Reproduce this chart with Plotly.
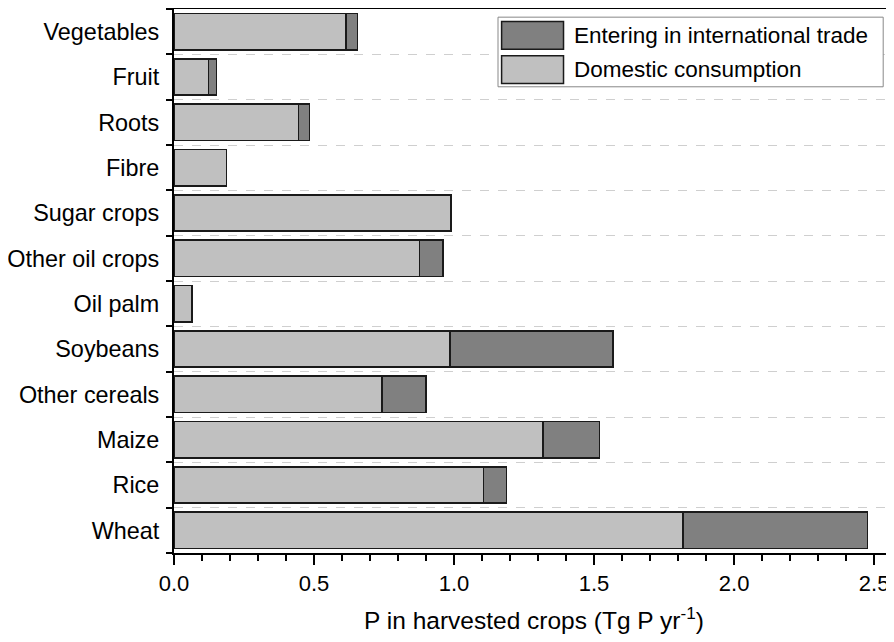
import plotly.graph_objects as go

crops = ["Wheat", "Rice", "Maize", "Other cereals", "Soybeans", "Oil palm",
         "Other oil crops", "Sugar crops", "Fibre", "Roots", "Fruit", "Vegetables"]
domestic = [1.817, 1.105, 1.317, 0.743, 0.986, 0.065, 0.876, 0.989, 0.188, 0.444, 0.123, 0.614]
trade = [0.660, 0.083, 0.202, 0.156, 0.582, 0.0, 0.084, 0.0, 0.0, 0.039, 0.029, 0.042]

x_ticks = [0.0, 0.5, 1.0, 1.5, 2.0, 2.5]
x_tick_labels = ["0.0", "0.5", "1.0", "1.5", "2.0", "2.5"]

name_trade = "Entering in international trade"
name_dom = "Domestic consumption"
col_trade = "#808080"
col_dom = "#c0c0c0"

FONT = "Liberation Sans, Arial, sans-serif"

fig = go.Figure()
fig.add_trace(go.Bar(
    y=crops, x=domestic, orientation="h", name=name_dom,
    marker=dict(color=col_dom, line=dict(color="#1a1a1a", width=1.5)),
    width=0.8, showlegend=False,
))
fig.add_trace(go.Bar(
    y=crops, x=[t if t > 0 else None for t in trade], orientation="h", name=name_trade,
    marker=dict(color=col_trade, line=dict(color="#1a1a1a", width=1.5)),
    width=0.8, showlegend=False,
))

# Custom legend (box, swatches, labels) in paper coordinates
fig.add_shape(type="rect", xref="paper", yref="paper",
              x0=0.45, x1=0.985, y0=0.857, y1=0.985,
              line=dict(color="#888888", width=1), fillcolor="white", layer="above")
legend_items = [(name_trade, col_trade, 0.977, 0.920), (name_dom, col_dom, 0.914, 0.857)]
for label, col, ytop, ybot in legend_items:
    fig.add_shape(type="rect", xref="paper", yref="paper",
                  x0=0.455, x1=0.541, y0=ybot + 0.006, y1=ytop,
                  line=dict(color="#1a1a1a", width=1.5), fillcolor=col, layer="above")
    fig.add_annotation(xref="paper", yref="paper", x=0.553, y=(ytop + ybot + 0.006) / 2,
                       text=label, showarrow=False, xanchor="left", yanchor="middle",
                       font=dict(family=FONT, size=22.5, color="black"))

fig.update_layout(
    barmode="stack",
    width=886, height=626,
    margin=dict(l=166, r=0, t=1, b=81),
    plot_bgcolor="white", paper_bgcolor="white",
    font=dict(family=FONT, size=22, color="black"),
    bargap=0.2,
)
fig.update_xaxes(
    range=[0, 2.571], automargin=False,
    tickvals=x_ticks, ticktext=x_tick_labels,
    ticks="outside", ticklen=10, tickwidth=2, tickcolor="black",
    minor=dict(dtick=0.1, ticks="outside", ticklen=6, tickwidth=1.5, tickcolor="black", showgrid=False),
    showline=True, linecolor="black", linewidth=2, mirror=True,
    showgrid=False, zeroline=False,
    title=dict(text="P in harvested crops (Tg P yr<sup>-1</sup>)", standoff=17,
               font=dict(family=FONT, size=24.5)),
    tickfont=dict(family=FONT, size=22),
)
fig.update_yaxes(
    type="category", categoryorder="array", categoryarray=crops,
    tickson="boundaries", automargin=False,
    ticks="outside", ticklen=6, tickwidth=2, tickcolor="black",
    ticklabelstandoff=8,
    showline=True, linecolor="black", linewidth=2,
    showgrid=True, gridcolor="#cfcfcf", griddash="dash", gridwidth=1,
    tickfont=dict(family=FONT, size=23.4),
)

fig.write_html("out.html")
